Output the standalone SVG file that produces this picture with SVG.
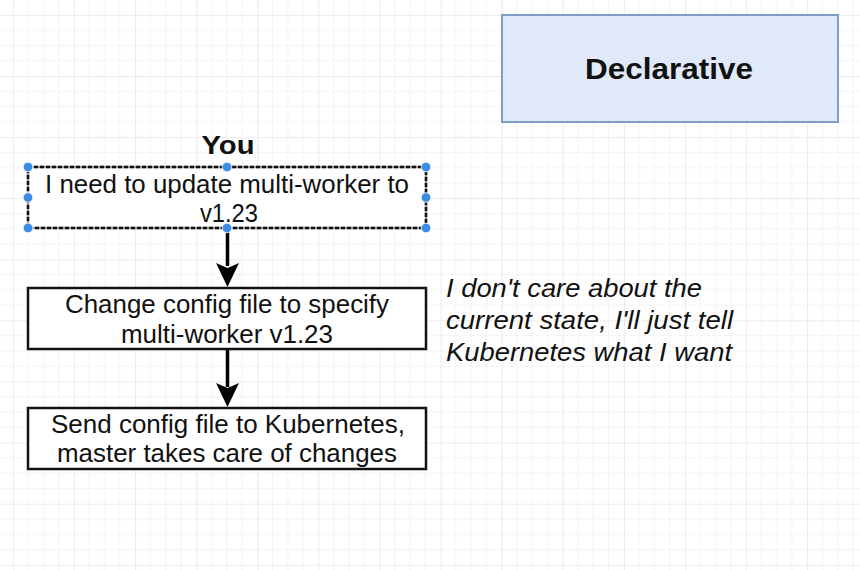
<svg xmlns="http://www.w3.org/2000/svg" width="860" height="570" viewBox="0 0 860 570">
  <style>
    .t { font-family: "Liberation Sans", Arial, Helvetica, sans-serif; fill: #111; }
    .body { font-size: 25px; text-anchor: middle; }
    .bold { font-weight: bold; text-anchor: middle; }
    .note { font-size: 26px; font-style: italic; }
    .box { fill: #ffffff; stroke: #111; stroke-width: 2.5; }
    .handle { fill: #3c8ce6; stroke: #ffffff; stroke-width: 0.8; }
    .conn { stroke: #000; stroke-width: 3.5; fill: none; }
    .head { fill: #000; stroke: none; }
  </style>
  <defs>
    <pattern id="grid" patternUnits="userSpaceOnUse" x="12.9" y="14.9" width="61.1" height="61.1">
      <path d="M15.275 0 V61.1 M30.55 0 V61.1 M45.825 0 V61.1 M0 15.275 H61.1 M0 30.55 H61.1 M0 45.825 H61.1" stroke="#f4f4f5" stroke-width="1" fill="none"/>
      <path d="M0.5 0 V61.1 M0 0.5 H61.1" stroke="#ebebed" stroke-width="1" fill="none"/>
    </pattern>
  </defs>
  <rect x="0" y="0" width="860" height="570" fill="#ffffff"/>
  <rect x="0" y="0" width="860" height="570" fill="url(#grid)"/>

  <g id="declarative">
    <rect x="502" y="15" width="336" height="107" fill="#dfe9fa" stroke="#7f9cc8" stroke-width="2"/>
    <text class="t bold" x="669" y="79" font-size="30" textLength="168" lengthAdjust="spacingAndGlyphs">Declarative</text>
  </g>

  <g id="you-label">
    <text class="t bold" x="228" y="154" font-size="26" textLength="53" lengthAdjust="spacingAndGlyphs">You</text>
  </g>

  <g id="connectors">
    <line class="conn" x1="227.5" y1="229" x2="227.5" y2="266"/>
    <path class="head" d="M227.5 287 L216 263 L227.5 268 L239 263 Z"/>
    <line class="conn" x1="227.5" y1="350" x2="227.5" y2="387"/>
    <path class="head" d="M227.5 407 L216 383 L227.5 388 L239 383 Z"/>
  </g>

  <g id="node-update">
    <rect x="28" y="167" width="398" height="61" fill="#ffffff" stroke="#9a9a9a" stroke-width="2.5"/>
    <rect x="28" y="167" width="398" height="61" fill="none" stroke="#111" stroke-width="2.5" stroke-dasharray="4 2"/>
    <text class="t body" x="227" y="193" textLength="364" lengthAdjust="spacingAndGlyphs">I need to update multi-worker to</text>
    <text class="t body" x="229" y="222" textLength="58" lengthAdjust="spacingAndGlyphs">v1.23</text>
    <circle class="handle" cx="28" cy="167" r="4.8"/>
    <circle class="handle" cx="227" cy="167" r="4.8"/>
    <circle class="handle" cx="426" cy="167" r="4.8"/>
    <circle class="handle" cx="28" cy="197.5" r="4.8"/>
    <circle class="handle" cx="426" cy="197.5" r="4.8"/>
    <circle class="handle" cx="28" cy="228" r="4.8"/>
    <circle class="handle" cx="227" cy="228" r="4.8"/>
    <circle class="handle" cx="426" cy="228" r="4.8"/>
  </g>

  <g id="node-change">
    <rect class="box" x="28" y="288" width="398" height="61"/>
    <text class="t body" x="227" y="313" textLength="324" lengthAdjust="spacingAndGlyphs">Change config file to specify</text>
    <text class="t body" x="227" y="343" textLength="212" lengthAdjust="spacingAndGlyphs">multi-worker v1.23</text>
  </g>

  <g id="node-send">
    <rect class="box" x="28" y="408" width="398" height="61"/>
    <text class="t body" x="228" y="433" textLength="354" lengthAdjust="spacingAndGlyphs">Send config file to Kubernetes,</text>
    <text class="t body" x="227" y="462" textLength="340" lengthAdjust="spacingAndGlyphs">master takes care of changes</text>
  </g>

  <g id="note">
    <text class="t note" x="446" y="297" textLength="256" lengthAdjust="spacingAndGlyphs">I don't care about the</text>
    <text class="t note" x="446" y="329" textLength="287" lengthAdjust="spacingAndGlyphs">current state, I'll just tell</text>
    <text class="t note" x="446" y="361" textLength="286" lengthAdjust="spacingAndGlyphs">Kubernetes what I want</text>
  </g>
</svg>
